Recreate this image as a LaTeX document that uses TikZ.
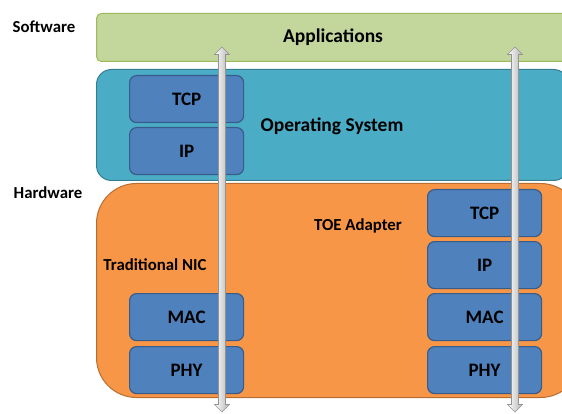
\documentclass[tikz,border=0pt]{standalone}
\usepackage{fontspec}
\setmainfont{Carlito}
\definecolor{appfill}{HTML}{C3D69B}
\definecolor{appdraw}{HTML}{9BBB59}
\definecolor{osfill}{HTML}{4BACC6}
\definecolor{osdraw}{HTML}{357D91}
\definecolor{blfill}{HTML}{4F81BD}
\definecolor{bldraw}{HTML}{385D8A}
\definecolor{hwfill}{HTML}{F79646}
\definecolor{hwdraw}{HTML}{B66D31}
\begin{document}
\begin{tikzpicture}[x=1pt,y=-1pt,
  layer/.style={draw, line width=1pt, anchor=north west, inner sep=0pt},
  blk/.style={draw=bldraw, fill=blfill, line width=1.2pt, rounded corners=7pt,
    minimum width=114pt, minimum height=47pt, anchor=north west, inner sep=0pt,
    font=\fontsize{19}{22}\selectfont\bfseries},
  seclbl/.style={font=\fontsize{16.8}{20}\selectfont\bfseries, inner sep=0pt},
  biglbl/.style={font=\fontsize{19.5}{23}\selectfont\bfseries, inner sep=0pt},
  blockarrow/.style={draw=gray!85, line width=0.6pt, left color=white, right color=gray!60}]
\useasboundingbox (0,0) rectangle (562,414);
\begin{scope}
\clip (0,0) rectangle (562,414);
\node[layer, draw=appdraw, fill=appfill, rounded corners=5pt, minimum width=490pt, minimum height=48pt] (app) at (96,13) {};
\node[layer, draw=osdraw, fill=osfill, rounded corners=15pt, minimum width=472pt, minimum height=111pt] (os) at (96,69) {};
\node[layer, draw=hwdraw, fill=hwfill, rounded corners=40pt, minimum width=484pt, minimum height=214pt] (hw) at (96,183) {};
\end{scope}
\node[seclbl] (sw) at (44,27) {Software};
\node[seclbl] (hwl) at (48,193) {Hardware};
\node[biglbl] (appl) at (333,37) {Applications};
\node[biglbl] (osl) at (332,126) {Operating System};
\node[seclbl] (nic) at (155,265) {Traditional NIC};
\node[seclbl] (toe) at (358,226) {TOE Adapter};
\node[blk] (ostcp) at (129,75) {TCP};
\node[blk] (osip) at (129,127) {IP};
\node[blk] (nmac) at (129,293) {MAC};
\node[blk] (nphy) at (129,346) {PHY};
\node[blk] (ttcp) at (427,189) {TCP};
\node[blk] (tip) at (427,241) {IP};
\node[blk] (tmac) at (427,293) {MAC};
\node[blk] (tphy) at (427,346) {PHY};
\coordinate (lt) at (222,47);
\coordinate (lb) at (222,412);
\coordinate (rt) at (515,47);
\coordinate (rb) at (515,412);
\foreach \t/\b in {lt/lb, rt/rb}{
\draw[blockarrow] (\t) -- ([shift={(7.5,7.5)}]\t) -- ([shift={(3.5,7.5)}]\t) -- ([shift={(3.5,-7.5)}]\b) -- ([shift={(7.5,-7.5)}]\b) -- (\b) -- ([shift={(-7.5,-7.5)}]\b) -- ([shift={(-3.5,-7.5)}]\b) -- ([shift={(-3.5,7.5)}]\t) -- ([shift={(-7.5,7.5)}]\t) -- cycle;
}
\end{tikzpicture}
\end{document}
